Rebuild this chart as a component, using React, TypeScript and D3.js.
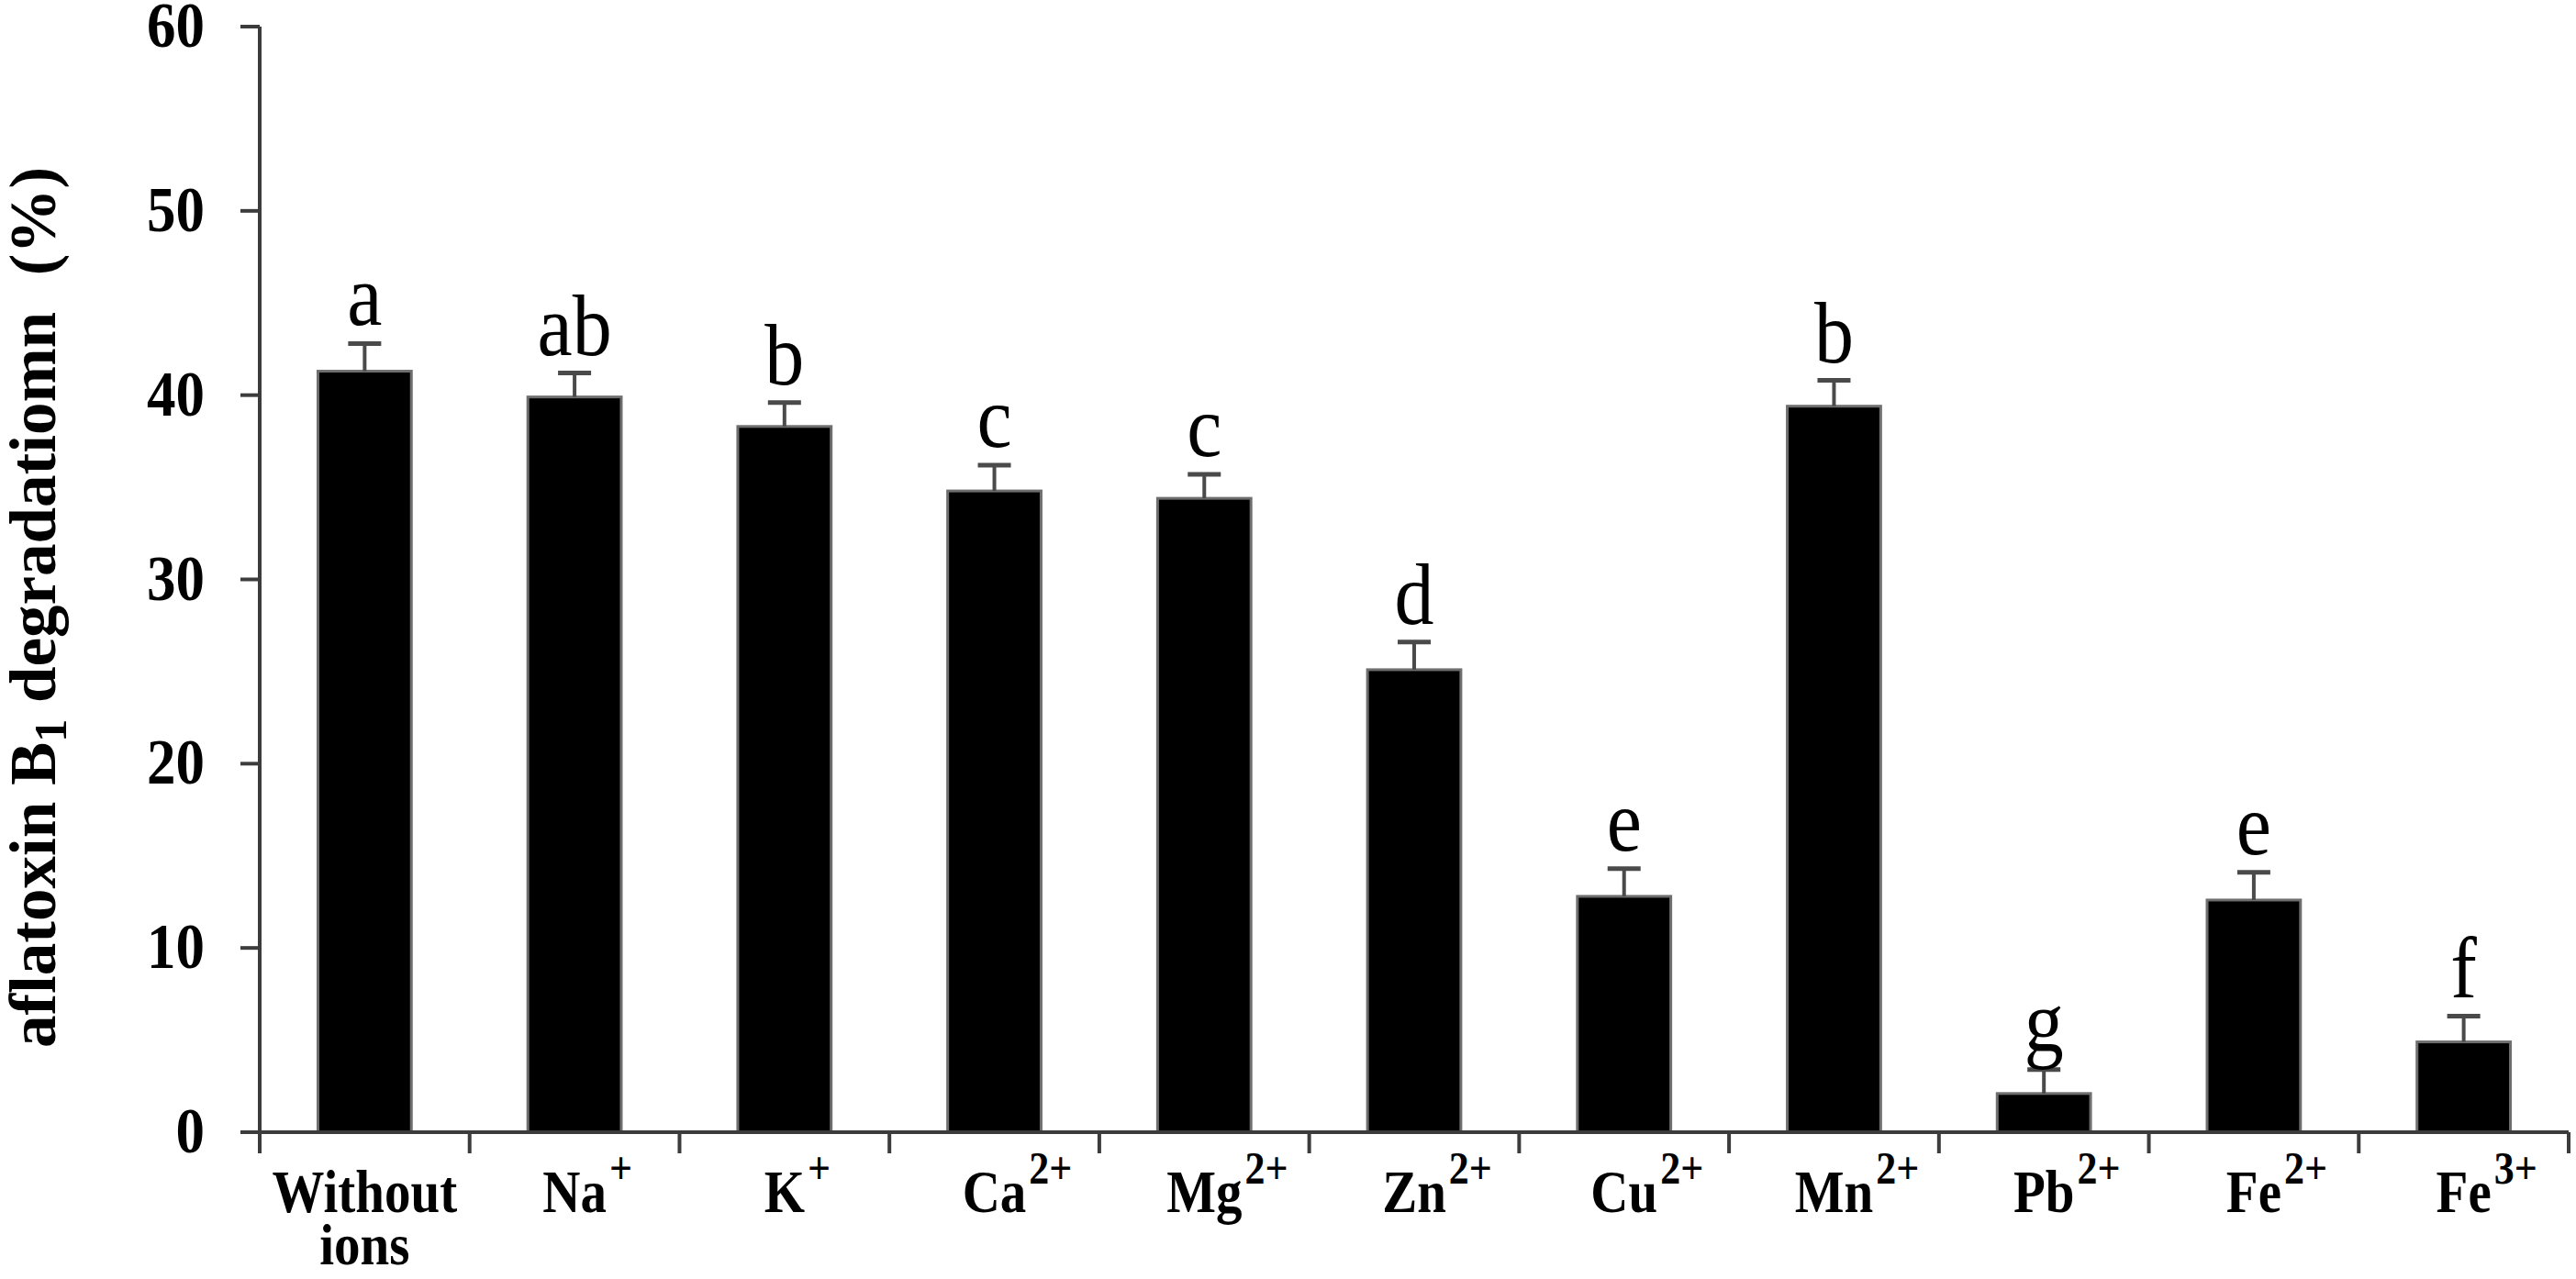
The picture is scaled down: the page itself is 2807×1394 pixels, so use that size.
import React, { useEffect, useRef } from "react";
import * as d3 from "d3";

const categories = ["Without ions", "Na+", "K+", "Ca2+", "Mg2+", "Zn2+", "Cu2+", "Mn2+", "Pb2+", "Fe2+", "Fe3+"];
const labelBase = ["Without", "Na", "K", "Ca", "Mg", "Zn", "Cu", "Mn", "Pb", "Fe", "Fe"];
const labelSecondLine = ["ions", "", "", "", "", "", "", "", "", "", ""];
const labelCharge = ["", "+", "+", "2+", "2+", "2+", "2+", "2+", "2+", "2+", "3+"];
const values = [41.3, 39.9, 38.3, 34.8, 34.4, 25.1, 12.8, 39.4, 2.1, 12.6, 4.9];
const errors = [1.5, 1.3, 1.3, 1.4, 1.3, 1.5, 1.5, 1.4, 1.3, 1.5, 1.4];
const letters = ["a", "ab", "b", "c", "c", "d", "e", "b", "g", "e", "f"];
const yTicks = [0, 10, 20, 30, 40, 50, 60];

const W = 2807;
const H = 1394;
const SERIF = "'Liberation Serif', 'Times New Roman', Times, serif";
const AXIS = "#3c3c3c";

export default function App() {
  const ref = useRef<SVGSVGElement | null>(null);

  useEffect(() => {
    const svg = d3.select(ref.current);
    svg.selectAll("*").remove();

    const x0 = 283, x1 = 2799, yBottom = 1234, yTop = 29;
    const y = d3.scaleLinear().domain([0, 60]).range([yBottom, yTop]);
    const x = d3.scaleBand<string>().domain(categories).range([x0, x1]).padding(0);
    const bw = x.bandwidth() * 0.445;
    const cx = (c: string) => (x(c) as number) + x.bandwidth() / 2;

    const g = svg.append("g");

    // bars
    g.selectAll("rect.bar")
      .data(categories)
      .join("rect")
      .attr("class", "bar")
      .attr("x", (c) => cx(c) - bw / 2)
      .attr("width", bw)
      .attr("y", (c, i) => y(values[i]))
      .attr("height", (c, i) => yBottom - y(values[i]))
      .attr("fill", "#000")
      .attr("stroke", "#6e6e6e")
      .attr("stroke-width", 3);

    // error bars
    const capW = 36;
    g.selectAll("line.err")
      .data(categories)
      .join("line")
      .attr("class", "err")
      .attr("x1", (c) => cx(c))
      .attr("x2", (c) => cx(c))
      .attr("y1", (c, i) => y(values[i]))
      .attr("y2", (c, i) => y(values[i] + errors[i]))
      .attr("stroke", "#4a4a4a")
      .attr("stroke-width", 4);
    g.selectAll("line.cap")
      .data(categories)
      .join("line")
      .attr("class", "cap")
      .attr("x1", (c) => cx(c) - capW / 2)
      .attr("x2", (c) => cx(c) + capW / 2)
      .attr("y1", (c, i) => y(values[i] + errors[i]))
      .attr("y2", (c, i) => y(values[i] + errors[i]))
      .attr("stroke", "#4a4a4a")
      .attr("stroke-width", 5);

    // significance letters
    g.selectAll("text.sig")
      .data(categories)
      .join("text")
      .attr("class", "sig")
      .attr("transform", (c, i) => `translate(${cx(c)},${y(values[i] + errors[i]) - 20}) scale(1,1.1)`)
      .attr("text-anchor", "middle")
      .attr("font-family", SERIF)
      .attr("font-size", 86)
      .attr("fill", "#000")
      .text((c, i) => letters[i]);

    // y axis
    g.append("line")
      .attr("x1", x0).attr("x2", x0)
      .attr("y1", y(60)).attr("y2", yBottom + 23)
      .attr("stroke", AXIS).attr("stroke-width", 4);
    g.selectAll("line.ytick")
      .data(yTicks)
      .join("line")
      .attr("class", "ytick")
      .attr("x1", x0 - 21).attr("x2", x0)
      .attr("y1", (d) => y(d)).attr("y2", (d) => y(d))
      .attr("stroke", AXIS).attr("stroke-width", 4);
    g.selectAll("text.ylab")
      .data(yTicks)
      .join("text")
      .attr("class", "ylab")
      .attr("transform", (d) => `translate(223,${y(d) + 22}) scale(1,1.1)`)
      .attr("text-anchor", "end")
      .attr("font-family", SERIF)
      .attr("font-weight", "bold")
      .attr("font-size", 63)
      .attr("fill", "#000")
      .text((d) => String(d));

    // x axis
    g.append("line")
      .attr("x1", x0 - 21).attr("x2", x1)
      .attr("y1", yBottom).attr("y2", yBottom)
      .attr("stroke", AXIS).attr("stroke-width", 4);
    const bounds = categories.map((c) => x(c) as number).concat([x1]);
    g.selectAll("line.xtick")
      .data(bounds.slice(1))
      .join("line")
      .attr("class", "xtick")
      .attr("x1", (d) => d).attr("x2", (d) => d)
      .attr("y1", yBottom).attr("y2", yBottom + 23)
      .attr("stroke", AXIS).attr("stroke-width", 4);

    // x labels
    categories.forEach((c, i) => {
      const t = g.append("text")
        .attr("transform", `translate(${cx(c)},1321) scale(1,1.15)`)
        .attr("text-anchor", "middle")
        .attr("font-family", SERIF)
        .attr("font-weight", "bold")
        .attr("font-size", 57)
        .attr("fill", "#000")
        .text(labelBase[i]);
      const node = t.node() as SVGTextElement;
      const w = node.getComputedTextLength();
      if (labelSecondLine[i]) {
        g.append("text")
          .attr("transform", `translate(${cx(c)},1378) scale(1,1.1)`)
          .attr("text-anchor", "middle")
          .attr("font-family", SERIF)
          .attr("font-weight", "bold")
          .attr("font-size", 57)
          .attr("fill", "#000")
          .text(labelSecondLine[i]);
      }
      if (labelCharge[i]) {
        g.append("text")
          .attr("transform", `translate(${cx(c) + w / 2 + 3},1290) scale(1,1.15)`)
          .attr("text-anchor", "start")
          .attr("font-family", SERIF)
          .attr("font-weight", "bold")
          .attr("font-size", 44)
          .attr("fill", "#000")
          .text(labelCharge[i]);
      }
    });

    // y title
    const title = g.append("text")
      .attr("transform", `translate(60,662) rotate(-90)`)
      .attr("text-anchor", "middle")
      .attr("font-family", SERIF)
      .attr("font-weight", "bold")
      .attr("font-size", 71)
      .attr("fill", "#000");
    title.append("tspan").text("aflatoxin B");
    title.append("tspan").attr("font-size", 50).attr("dy", 12).text("1");
    title.append("tspan").attr("dy", -12).text(" degradatiomn");
    title.append("tspan").attr("dx", 22).text(" (%)");
  }, []);

  return (
    <svg
      ref={ref}
      width={W}
      height={H}
      viewBox={`0 0 ${W} ${H}`}
      style={{ position: "absolute", left: 0, top: 0, background: "#fff", display: "block" }}
    />
  );
}
